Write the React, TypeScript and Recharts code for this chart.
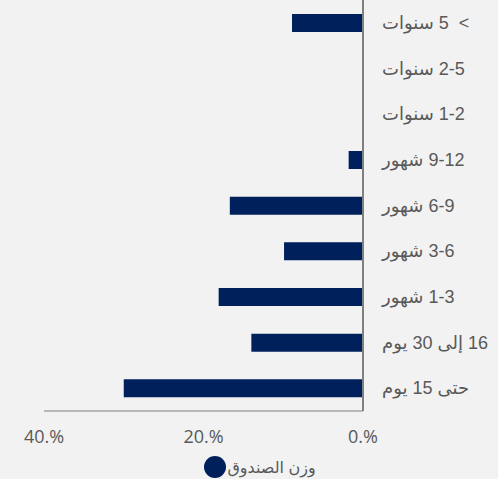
import React from "react";
import { BarChart, Bar, XAxis, YAxis, Legend } from "recharts";

const categories = [
  ">\u00a0 5 سنوات",
  "2-5 سنوات",
  "1-2 سنوات",
  "9-12 شهور",
  "6-9 شهور",
  "3-6 شهور",
  "1-3 شهور",
  "16 إلى 30 يوم",
  "حتى 15 يوم",
];
const fundWeight = [0.089, 0, 0, 0.018, 0.167, 0.099, 0.181, 0.14, 0.3];
const xTicks = [0, 0.2, 0.4];
const xTickLabels: Record<number, string> = { 0: "0.%", 0.2: "20.%", 0.4: "40.%" };
const seriesName = "وزن الصندوق";

const data = categories.map((c, i) => ({ name: c, value: fundWeight[i] }));

const NAVY = "#00205b";
const TEXT = "#595959";
const FONT = "Arial, 'Liberation Sans', 'DejaVu Sans', sans-serif";

function CategoryTick({ x, y, payload }: any) {
  return (
    <text
      x={x}
      y={y}
      dy="0.35em"
      textAnchor="end"
      direction="rtl"
      fill={TEXT}
      fontSize={18}
      fontFamily={FONT}
    >
      {payload.value}
    </text>
  );
}

function LegendContent() {
  return (
    <div
      style={{
        display: "flex",
        justifyContent: "center",
        alignItems: "center",
        marginTop: 11,
        marginLeft: -22,
        fontFamily: FONT,
        fontSize: 16,
        color: TEXT,
      }}
    >
      <svg width={22} height={22} style={{ display: "block" }}>
        <circle cx={11} cy={11} r={11} fill={NAVY} />
      </svg>
      <span style={{ marginLeft: 1 }}>{seriesName}</span>
    </div>
  );
}

export default function App() {
  return (
    <div
      style={{
        position: "absolute",
        left: 0,
        top: 0,
        width: 498,
        height: 479,
        background: "#f2f2f2",
      }}
    >
      <BarChart
        width={498}
        height={479}
        data={data}
        layout="vertical"
        margin={{ top: 0, right: 0, bottom: 0, left: 44 }}
        barCategoryGap={27}
      >
        <XAxis
          type="number"
          domain={[0, 0.4]}
          ticks={xTicks}
          reversed
          height={34}
          tickLine={false}
          tickSize={0}
          tickMargin={19}
          axisLine={{ stroke: "#7f7f7f", strokeWidth: 1 }}
          tickFormatter={(v: number) => xTickLabels[v] ?? ""}
          tick={{ fill: TEXT, fontSize: 18, fontFamily: "'Open Sans', Arial, sans-serif" }}
        />
        <YAxis
          type="category"
          dataKey="name"
          orientation="right"
          width={135}
          tickLine={false}
          tickSize={0}
          tickMargin={19}
          axisLine={{ stroke: "#808080", strokeWidth: 2 }}
          tick={<CategoryTick />}
          interval={0}
        />
        <Legend
          verticalAlign="bottom"
          height={34}
          content={<LegendContent />}
        />
        <Bar dataKey="value" name={seriesName} fill={NAVY} barSize={18} isAnimationActive={false} />
      </BarChart>
    </div>
  );
}
